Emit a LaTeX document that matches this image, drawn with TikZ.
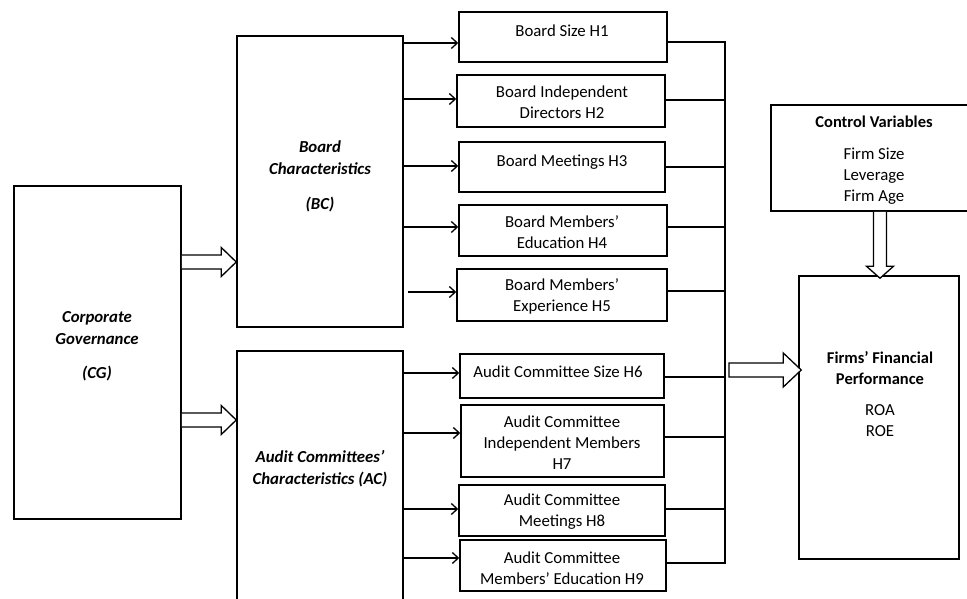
\documentclass[tikz,border=0pt]{standalone}
\usepackage{fontspec}
\setmainfont{Carlito}
\usetikzlibrary{arrows.meta,fit,calc}
\begin{document}
\begin{tikzpicture}[x=1pt,y=-1pt,
  box/.style={draw=black,line width=1.5pt,inner sep=0pt,fill=none},
  txt/.style={align=center,inner sep=0pt,font=\fontsize{16.8}{21}\selectfont},
  btxt/.style={txt,font=\fontsize{16.5}{21}\selectfont\bfseries},
  bitxt/.style={txt,font=\fontsize{16.8}{22}\selectfont\bfseries\itshape},
  arr/.style={line width=1.3pt,-{Straight Barb[length=6pt,width=11pt,line width=1.3pt]}},
  bus/.style={line width=1.4pt},
  hollow/.style={draw=black,fill=white,line width=1.3pt,line join=miter}]
\useasboundingbox (0,0) rectangle (967,599);
% main boxes
\node[box,fit={(14,186) (181,519)}] (cg) {};
\node[box,fit={(237,36) (403,327)}] (bc) {};
\node[box,fit={(237,351) (403,620)}] (ac) {};
\node[box,fit={(771,105) (985,211)}] (cv) {};
\node[box,fit={(799,276) (959,559)}] (ffp) {};
% small boxes
\node[box,fit={(459,12) (667,62)}] (h1) {};
\node[box,fit={(457,75) (665,127)}] (h2) {};
\node[box,fit={(459,142) (665,192)}] (h3) {};
\node[box,fit={(459,205) (667,256)}] (h4) {};
\node[box,fit={(457,269) (667,321)}] (h5) {};
\node[box,fit={(460,354) (664,398)}] (h6) {};
\node[box,fit={(461,405) (664,477)}] (h7) {};
\node[box,fit={(459,485) (665,536)}] (h8) {};
\node[box,fit={(460,540) (666,591)}] (h9) {};
% texts
\node[bitxt] (tcg) at (97,346) {Corporate\\Governance\\[12pt](CG)};
\node[bitxt] (tbc) at (320,176) {Board\\Characteristics\\[13pt](BC)};
\node[bitxt] (tac) at (320,469) {Audit Committees’\\Characteristics (AC)};
\node[btxt] (tcv1) at (874,122) {Control Variables};
\node[txt] (tcv2) at (874,176) {Firm Size\\Leverage\\Firm Age};
\node[btxt] (tffp1) at (880,368) {Firms’ Financial\\Performance};
\node[txt] (tffp2) at (880,421) {ROA\\ROE};
\node[txt] (t1) at (562,31) {Board Size H1};
\node[txt] (t2) at (562,102) {Board Independent\\Directors H2};
\node[txt] (t3) at (562,162) {Board Meetings H3};
\node[txt] (t4) at (562,232) {Board Members’\\Education H4};
\node[txt] (t5) at (562,296) {Board Members’\\Experience H5};
\node[txt] (t6) at (558,372) {Audit Committee Size H6};
\node[txt] (t7) at (562,443) {Audit Committee\\Independent Members\\H7};
\node[txt] (t8) at (562,512) {Audit Committee\\Meetings H8};
\node[txt] (t9) at (562,568) {Audit Committee\\Members’ Education H9};
% thin arrows
\draw[arr] (bc.east |- 0,43) -- (h1.west |- 0,43);
\draw[arr] (bc.east |- 0,99) -- (h2.west |- 0,99);
\draw[arr] (bc.east |- 0,166) -- (h3.west |- 0,166);
\draw[arr] (bc.east |- 0,227) -- (h4.west |- 0,227);
\draw[arr] ([xshift=4pt]bc.east |- 0,292) -- (h5.west |- 0,292);
\draw[arr] (ac.east |- 0,373) -- (h6.west |- 0,373);
\draw[arr] (ac.east |- 0,433) -- (h7.west |- 0,433);
\draw[arr] (ac.east |- 0,509) -- (h8.west |- 0,509);
\draw[arr] (ac.east |- 0,558) -- (h9.west |- 0,558);
% bus
\coordinate (bt) at (725,42);
\coordinate (bb) at (725,563);
\draw[bus] (h1.east |- bt) -- (bt) -- (bb) -- (h9.east |- bb);
\draw[bus] (h2.east |- 0,100) -- (bt |- 0,100);
\draw[bus] (h3.east |- 0,167) -- (bt |- 0,167);
\draw[bus] (h4.east |- 0,227) -- (bt |- 0,227);
\draw[bus] (h5.east |- 0,291) -- (bt |- 0,291);
\draw[bus] (h6.east |- 0,377) -- (bt |- 0,377);
\draw[bus] (h7.east |- 0,437) -- (bt |- 0,437);
\draw[bus] (h8.east |- 0,509) -- (bt |- 0,509);
% hollow arrows
\coordinate (a1s) at (cg.east |- 0,262);
\coordinate (a1e) at (bc.west |- 0,262);
\draw[hollow] ($(a1s)+(0,-7)$) -- ($(a1e)+(-15,-7)$) -- ($(a1e)+(-15,-14.5)$) -- (a1e) -- ($(a1e)+(-15,14.5)$) -- ($(a1e)+(-15,7)$) -- ($(a1s)+(0,7)$);
\coordinate (a2s) at (cg.east |- 0,420);
\coordinate (a2e) at (ac.west |- 0,420);
\draw[hollow] ($(a2s)+(0,-7)$) -- ($(a2e)+(-15,-7)$) -- ($(a2e)+(-15,-14.5)$) -- (a2e) -- ($(a2e)+(-15,14.5)$) -- ($(a2e)+(-15,7)$) -- ($(a2s)+(0,7)$);
\coordinate (a3s) at (729,370);
\coordinate (a3e) at ([xshift=3pt]ffp.west |- 0,370);
\draw[hollow] ($(a3s)+(0,-7)$) -- ($(a3e)+(-18,-7)$) -- ($(a3e)+(-18,-17)$) -- (a3e) -- ($(a3e)+(-18,17)$) -- ($(a3e)+(-18,7)$) -- ($(a3s)+(0,7)$) -- cycle;
\coordinate (a4s) at (cv.south -| 880,0);
\coordinate (a4e) at ([yshift=-3pt]ffp.north -| 880,0);
\draw[hollow] ($(a4s)+(-6.5,0)$) -- ($(a4e)+(-6.5,-12)$) -- ($(a4e)+(-13.5,-12)$) -- (a4e) -- ($(a4e)+(13.5,-12)$) -- ($(a4e)+(6.5,-12)$) -- ($(a4s)+(6.5,0)$);
\end{tikzpicture}
\end{document}
